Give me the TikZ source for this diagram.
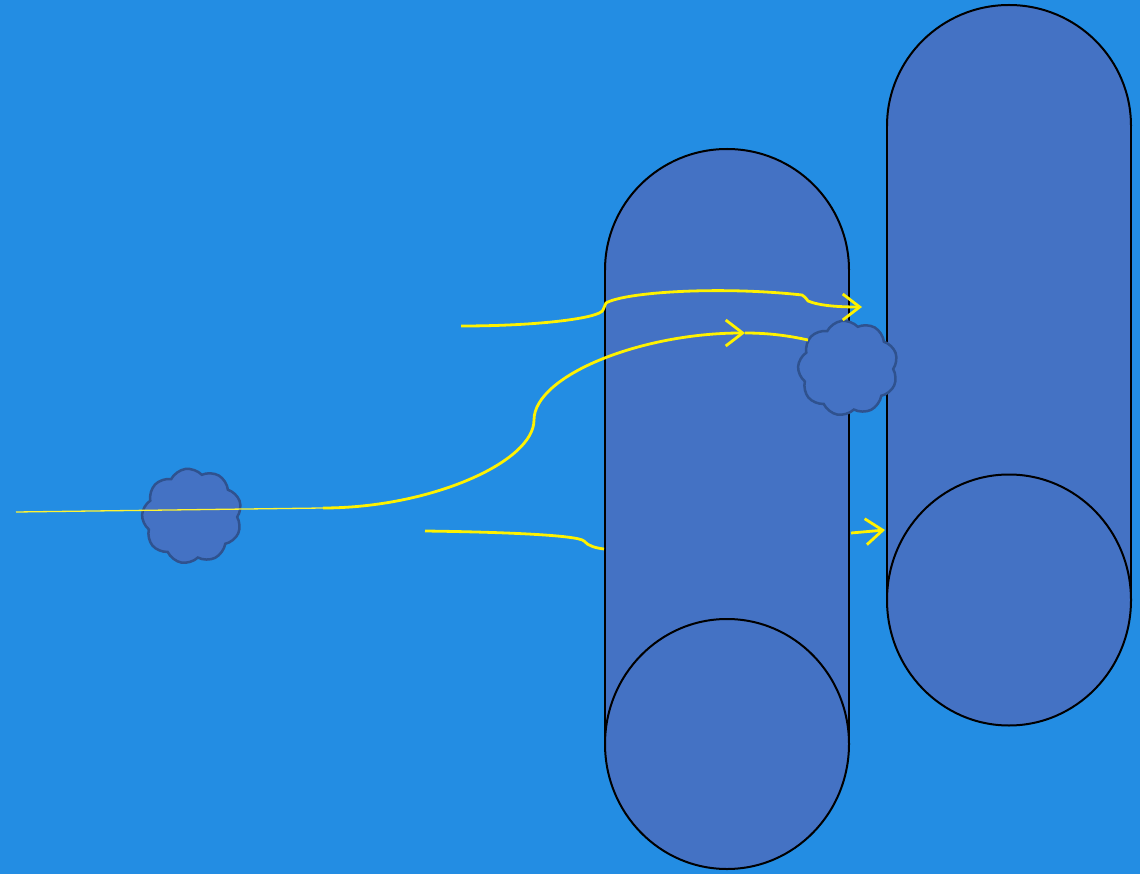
\documentclass[tikz,border=0pt]{standalone}
\usetikzlibrary{shapes.symbols,arrows.meta}
\definecolor{bg}{HTML}{238DE3}
\definecolor{cylfill}{HTML}{4472C4}
\definecolor{cloudline}{HTML}{2F528F}
\tikzset{
  cylline/.style={draw=black,line width=2pt},
  cloudbox/.style={cloud,cloud puffs=9,cloud puff arc=110,aspect=1.05,fill=cylfill,draw=cloudline,line width=2.5pt,inner sep=0pt},
  flow/.style={draw=yellow,line width=2.8pt},
  flowarrow/.style={flow,-{Straight Barb[length=17pt,width=26pt,line width=2.8pt]}}
}
\begin{document}
\begin{tikzpicture}[x=1pt,y=-1pt]
\useasboundingbox (0,0) rectangle (1140,874);
\fill[bg] (0,0) rectangle (1140,874);
% left cylinder
\fill[cylfill] (605,270) rectangle (849,744);
\filldraw[cylline,fill=cylfill] (605,270) arc (180:360:122 and 121);
\draw[cylline] (605,270) -- (605,744) (849,270) -- (849,744);
\filldraw[cylline,fill=cylfill] (727,744) ellipse (122 and 125);
% right cylinder
\fill[cylfill] (887,126) rectangle (1131,600);
\filldraw[cylline,fill=cylfill] (887,126) arc (180:360:122 and 121);
\draw[cylline] (887,126) -- (887,600) (1131,126) -- (1131,600);
\filldraw[cylline,fill=cylfill] (1009,600) ellipse (122 and 125.5);
% clouds
\node[cloudbox,minimum width=100pt,minimum height=95pt,rotate=8] (c1) at (192,516) {};
\node[cloudbox,minimum width=100pt,minimum height=95pt,rotate=8] (c2) at (848,368) {};
% coordinates
\coordinate (a0) at (16,512);
\coordinate (a1) at (323,508);
\coordinate (a2) at (534,420);
\coordinate (a3) at (745,333);
\coordinate (a4) at (808,340);
\coordinate (b0) at (461,326);
\coordinate (b1) at (603,310);
\coordinate (b2) at (606,303);
\coordinate (b3) at (802,295);
\coordinate (b4) at (808,301);
\coordinate (b5) at (862,307);
\coordinate (d0) at (425,531);
\coordinate (d1) at (584,541);
\coordinate (d2) at (604,549);
\coordinate (e0) at (851,533);
\coordinate (e1) at (885,530);
% flows
\draw[draw=yellow!80!white,line width=1.3pt] (a0) -- (a1);
\draw[flowarrow] (a1) .. controls (430,508) and (534,462) .. (a2)
  .. controls (534,376) and (640,333) .. (a3);
\draw[flow] (a3) .. controls (770,333) and (790,336) .. (a4);
\draw[flowarrow] (b0) .. controls (540,326) and (600,318) .. (b1)
  .. controls (604,306) .. (b2)
  .. controls (625,292) and (720,286) .. (b3)
  .. controls (805,297) .. (b4)
  .. controls (820,306) and (840,307) .. (b5);
\draw[flow] (d0) .. controls (500,532) and (578,535) .. (d1)
  .. controls (588,546) and (596,548) .. (d2);
\draw[flowarrow] (e0) -- (e1);
\end{tikzpicture}
\end{document}
